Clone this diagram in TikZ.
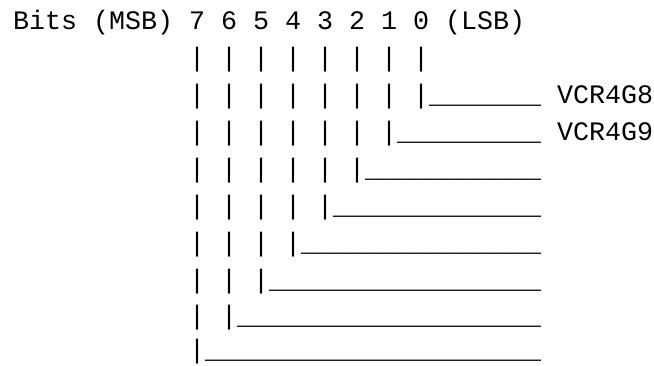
\documentclass[tikz,border=0pt]{standalone}
\usepackage{fontspec}
\setmonofont{Liberation Mono}
\usetikzlibrary{positioning}
\tikzset{
    % one line of the register listing
    listing/.style={
        font=\ttfamily\fontsize{26.67pt}{37pt}\selectfont,
        anchor=base west,
        inner sep=0pt,
        outer sep=0pt,
        text depth=0pt,
        text=black,
    },
}

\begin{document}
\begin{tikzpicture}[x=1pt, y=-1pt]
    \useasboundingbox (0,0) rectangle (654,365);

    \node (header) [listing] at (13,29) {Bits (MSB) 7 6 5 4 3 2 1 0 (LSB)};
    \node (stems) [listing] at (189,66) {| | | | | | | |};
    \node (bit0) [listing] at (189,103) {| | | | | | | |\_\_\_\_\_\_\_ VCR4G8};
    \node (bit1) [listing] at (189,140) {| | | | | | |\_\_\_\_\_\_\_\_\_ VCR4G9};
    \node (bit2) [listing] at (189,177) {| | | | | |\_\_\_\_\_\_\_\_\_\_\_};
    \node (bit3) [listing] at (189,214) {| | | | |\_\_\_\_\_\_\_\_\_\_\_\_\_};
    \node (bit4) [listing] at (189,251) {| | | |\_\_\_\_\_\_\_\_\_\_\_\_\_\_\_};
    \node (bit5) [listing] at (189,288) {| | |\_\_\_\_\_\_\_\_\_\_\_\_\_\_\_\_\_};
    \node (bit6) [listing] at (189,324.5) {| |\_\_\_\_\_\_\_\_\_\_\_\_\_\_\_\_\_\_\_};
    \node (bit7) [listing] at (189,358.5) {|\_\_\_\_\_\_\_\_\_\_\_\_\_\_\_\_\_\_\_\_\_};
\end{tikzpicture}
\end{document}
